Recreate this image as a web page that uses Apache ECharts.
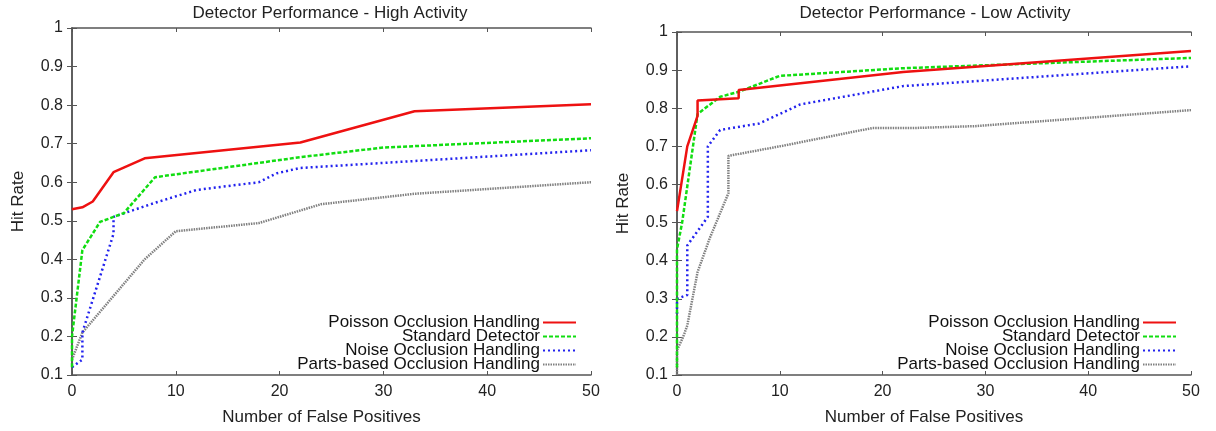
<!DOCTYPE html>
<html>
<head>
<meta charset="utf-8">
<script src="https://cdn.jsdelivr.net/npm/echarts@6/dist/echarts.min.js"></script>
<style>
  html, body { margin: 0; padding: 0; background: #fff; }
  #chart { width: 1216px; height: 431px; }
</style>
</head>
<body>
<div id="chart"></div>
<script>
// series names (legend order)
const seriesNames = [
  'Poisson Occlusion Handling',
  'Standard Detector',
  'Noise Occlusion Handling',
  'Parts-based Occlusion Handling'
]
const chartTitles = ['Detector Performance - High Activity', 'Detector Performance - Low Activity']

// high activity, [false positives, hit rate]
const highPoisson = [[0, 0.53], [1, 0.535], [2, 0.55], [4, 0.626], [7, 0.662], [22, 0.703], [33, 0.784], [50, 0.802]]
const highStandard = [[0, 0.12], [0, 0.2], [1, 0.424], [2.7, 0.497], [4, 0.51], [5, 0.52], [8, 0.613], [22, 0.665], [30, 0.69], [50, 0.714]]
const highNoise = [[0, 0.12], [1, 0.14], [1, 0.21], [4, 0.466], [4, 0.51], [7.8, 0.545], [12, 0.58], [18, 0.6], [19.7, 0.623], [22, 0.637], [33, 0.655], [50, 0.683]]
const highParts = [[0, 0.14], [1, 0.21], [7, 0.4], [10, 0.473], [18, 0.494], [24, 0.543], [33, 0.57], [50, 0.6]]

// low activity
const lowPoisson = [[0, 0.53], [1, 0.7], [2, 0.78], [2, 0.82], [6, 0.826], [6, 0.848], [22, 0.895], [50, 0.95]]
const lowStandard = [[0, 0.12], [0, 0.43], [0.5, 0.5], [2, 0.785], [4.2, 0.83], [6, 0.843], [10, 0.885], [22, 0.905], [50, 0.932]]
const lowNoise = [[0, 0.26], [0, 0.3], [1, 0.31], [1, 0.44], [3, 0.515], [3, 0.7], [4.2, 0.743], [8, 0.76], [12, 0.81], [22, 0.858], [50, 0.91]]
const lowParts = [[0, 0.1], [0, 0.165], [0.6, 0.2], [1, 0.23], [2, 0.37], [3.2, 0.46], [5, 0.577], [5, 0.675], [10, 0.7], [19, 0.748], [23, 0.748], [29, 0.753], [50, 0.795]]

const font = 'Liberation Sans, Arial, sans-serif'
const styles = [
  { color: '#ee1111', type: 'solid' },
  { color: '#11dd11', type: [4, 2] },
  { color: '#2222ee', type: [2, 3] },
  { color: '#808080', type: [1.5, 1] }
]

const grids = [
  { left: 72, top: 28, right: 625, bottom: 56 },
  { left: 677, top: 32, right: 25, bottom: 56 }
]

function makeSeries(sets, gi) {
  return sets.map((d, i) => ({
    name: seriesNames[i],
    type: 'line',
    xAxisIndex: gi * 2,
    yAxisIndex: gi * 2,
    symbol: 'none',
    data: d,
    lineStyle: { color: styles[i].color, type: styles[i].type, width: 2.5 },
    itemStyle: { color: styles[i].color },
    z: 10 - i
  }))
}

const xAxes = []
const yAxes = []
grids.forEach((g, gi) => {
  xAxes.push({
    type: 'value', gridIndex: gi, min: 0, max: 50, interval: 10,
    name: 'Number of False Positives', nameLocation: 'middle', nameGap: 34,
    nameTextStyle: { fontFamily: font, fontSize: 17, color: '#222', padding: [0, 20, 0, 0] },
    axisLine: { lineStyle: { color: '#555', width: 1.5 } },
    axisTick: { inside: true, length: 4, lineStyle: { color: '#555' } },
    axisLabel: { fontFamily: font, fontSize: 16, color: '#222', margin: 9 },
    splitLine: { show: false }
  })
  xAxes.push({
    type: 'value', gridIndex: gi, position: 'top', min: 0, max: 50, interval: 10,
    axisLine: { lineStyle: { color: '#555', width: 1.5 } },
    axisTick: { inside: true, length: 4, lineStyle: { color: '#555' } },
    axisLabel: { show: false },
    splitLine: { show: false }
  })
  yAxes.push({
    type: 'value', gridIndex: gi, min: 0.1, max: 1, interval: 0.1,
    name: 'Hit Rate', nameLocation: 'middle', nameGap: 45,
    nameTextStyle: { fontFamily: font, fontSize: 17, color: '#222' },
    axisLine: { show: true, lineStyle: { color: '#555', width: 1.5 } },
    axisTick: { inside: true, length: 5, lineStyle: { color: '#555' } },
    axisLabel: { fontFamily: font, fontSize: 16, color: '#222', margin: 9,
      formatter: v => String(Math.round(v * 10) / 10) },
    splitLine: { show: false }
  })
  yAxes.push({
    type: 'value', gridIndex: gi, position: 'right', min: 0.1, max: 1, interval: 0.1,
    axisLine: { show: true, lineStyle: { color: '#555', width: 1.5 } },
    axisTick: { inside: true, length: 5, lineStyle: { color: '#555' } },
    axisLabel: { show: false },
    splitLine: { show: false }
  })
})

const legendBase = {
  orient: 'vertical',
  align: 'right',
  itemWidth: 33,
  itemHeight: 10,
  itemGap: -3,
  padding: 0,
  itemStyle: { color: 'rgba(0,0,0,0)', borderWidth: 0, opacity: 0 },
  textStyle: { fontFamily: font, fontSize: 17, color: '#111', padding: [0, -2, 0, 0] },
  data: seriesNames
}

const option = {
  animation: false,
  backgroundColor: '#fff',
  title: [
    { text: chartTitles[0], left: 325, top: 0, textAlign: 'center',
      textStyle: { fontFamily: font, fontSize: 17, fontWeight: 'normal', color: '#222' } },
    { text: chartTitles[1], left: 930, top: 0, textAlign: 'center',
      textStyle: { fontFamily: font, fontSize: 17, fontWeight: 'normal', color: '#222' } }
  ],
  legend: [
    Object.assign({}, legendBase, { right: 639, top: 314 }),
    Object.assign({}, legendBase, { right: 39, top: 314 })
  ],
  grid: grids,
  xAxis: xAxes,
  yAxis: yAxes,
  series: makeSeries([highPoisson, highStandard, highNoise, highParts], 0)
    .concat(makeSeries([lowPoisson, lowStandard, lowNoise, lowParts], 1))
}

const chart = echarts.init(document.getElementById('chart'))
chart.setOption(option)
</script>
</body>
</html>
